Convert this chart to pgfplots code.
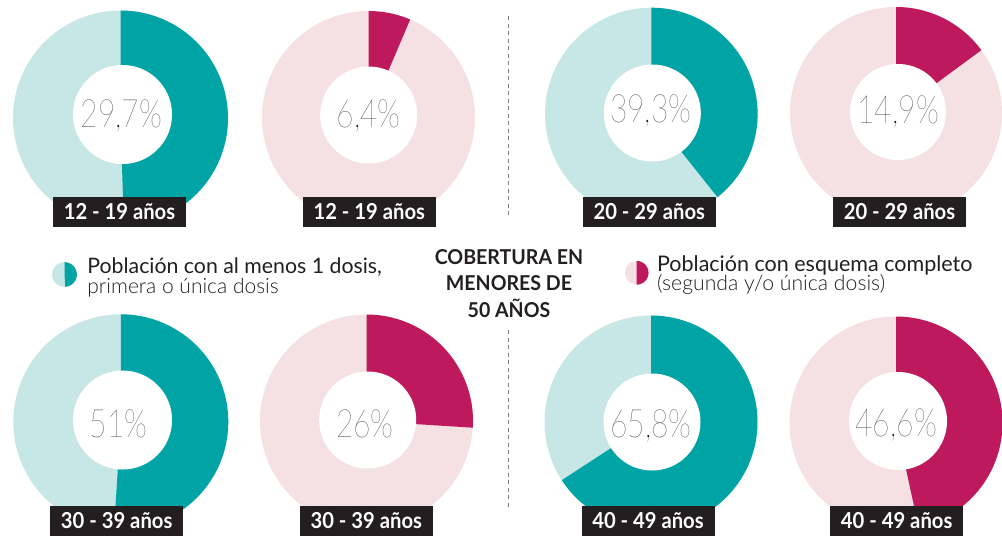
\documentclass[border=0pt]{standalone}
\usepackage{pgfplots}
\pgfplotsset{compat=1.18}
\usepackage{fontspec}
\usepackage{graphicx}
\setmainfont{Lato}
\IfFontExistsTF{Lato Light}{\newfontfamily\lightfont{Lato Light}}{\newfontfamily\lightfont{Lato}}
\IfFontExistsTF{Lato Thin}{\newfontfamily\thinfont{Lato Thin}}{\newfontfamily\thinfont{Lato}}
\definecolor{tealD}{RGB}{0,164,165}
\definecolor{tealL}{RGB}{199,230,230}
\definecolor{magD}{RGB}{190,25,92}
\definecolor{magL}{RGB}{245,224,228}
\definecolor{ink}{RGB}{35,31,32}
\definecolor{pct}{RGB}{25,25,25}
% cx cy R hx hy r value dark light
\newcommand{\donut}[9]{%
  \addplot[fill=#9, draw=none, domain=0:360, samples=181, variable=\t] ({#1+#3*sin(\t)},{#2-#3*cos(\t)});
  \addplot[fill=#8, draw=none, domain=0:3.6*#7, samples=120, variable=\t] ({#1+#3*sin(\t)},{#2-#3*cos(\t)}) -- (axis cs:#1,#2) -- cycle;
  \ifx&#6&\else
  \addplot[fill=white, draw=none, domain=0:360, samples=181, variable=\t] ({#4+#6*sin(\t)},{#5-#6*cos(\t)});
  \fi
}
\newcommand{\pcttext}[3]{\node[anchor=base, inner sep=0pt, text=pct] at (axis cs:#1,#2) {\scalebox{0.77}[1]{\thinfont\fontsize{19.5pt}{20pt}\selectfont #3}};}
\newcommand{\agebox}[3]{\node[fill=ink, text=white, minimum width=66.5pt, minimum height=15pt, inner sep=0pt] at (axis cs:#1,#2) {\scalebox{0.92}[1]{\bfseries\fontsize{11pt}{12pt}\selectfont #3}};}
\newcommand{\titleline}[2]{\node[anchor=base, inner sep=0pt, text=ink] at (axis cs:509,#1) {\scalebox{0.955}[1]{\bfseries\fontsize{10.25pt}{12pt}\selectfont #2}};}
\begin{document}
\begin{tikzpicture}
\begin{axis}[at={(0,0)}, anchor=south west, scale only axis, width=501pt, height=268pt,
  xmin=0, xmax=1002, ymin=0, ymax=536, y dir=reverse, axis lines=none, ticks=none, clip=true]
% top row
\donut{120.5}{118}{107.5}{122.5}{114.5}{49.5}{49.5}{tealD}{tealL}
\donut{368.5}{117.5}{106.5}{368.7}{115}{48.5}{6.4}{magD}{magL}
\donut{651.3}{114}{106.3}{652.3}{113}{48.5}{39.3}{tealD}{tealL}
\donut{896}{113}{106}{898}{112}{48}{14.9}{magD}{magL}
% bottom row
\donut{120.8}{421.8}{107.5}{122.5}{420}{49.5}{51}{tealD}{tealL}
\donut{366.5}{421}{106.5}{367.7}{420}{48.5}{26}{magD}{magL}
\donut{651}{422}{106.5}{652}{422}{48.5}{65.8}{tealD}{tealL}
\donut{896}{423}{106.5}{898}{421}{49}{46.6}{magD}{magL}
% legend icons
\donut{64.5}{274.5}{12.3}{0}{0}{}{49}{tealD}{tealL}
\donut{636.7}{272.8}{11.8}{0}{0}{}{50}{magD}{magL}
% percentages
\pcttext{121.5}{127}{29,7\%}
\pcttext{368.8}{127.3}{6,4\%}
\pcttext{650.8}{122.7}{39,3\%}
\pcttext{898.3}{123.3}{14,9\%}
\pcttext{118.8}{437.3}{51\%}
\pcttext{365}{437.3}{26\%}
\pcttext{651}{437}{65,8\%}
\pcttext{896.3}{436.7}{46,6\%}
% age boxes
\agebox{119.5}{212}{12 - 19 años}
\agebox{369.3}{212}{12 - 19 años}
\agebox{649.3}{212}{20 - 29 años}
\agebox{899.5}{212}{20 - 29 años}
\agebox{116.7}{520.5}{30 - 39 años}
\agebox{366.3}{520.5}{30 - 39 años}
\agebox{648}{520.5}{40 - 49 años}
\agebox{896.7}{520.5}{40 - 49 años}
% title
\titleline{264}{COBERTURA EN}
\titleline{290.7}{MENORES DE}
\titleline{317.3}{50 AÑOS}
% legends
\node[anchor=base west, inner sep=0pt, text depth=0pt, text=ink] at (axis cs:87,273.3) {\fontsize{10.65pt}{13pt}\selectfont Población con al menos 1 dosis,};
\node[anchor=base west, inner sep=0pt, text height=5pt, text=ink] at (axis cs:87,293) {\lightfont\fontsize{10.5pt}{13pt}\selectfont primera o única dosis};
\node[anchor=base west, inner sep=0pt, text depth=0pt, text=ink] at (axis cs:656.7,271.7) {\fontsize{10.75pt}{13pt}\selectfont Población con esquema completo};
\node[anchor=base west, inner sep=0pt, text height=5pt, text=ink] at (axis cs:656.7,290.7) {\lightfont\fontsize{10.6pt}{13pt}\selectfont (segunda y/o única dosis)};
% dashed separators
\draw[color=gray, line width=0.6pt, dash pattern=on 2pt off 1.75pt] (axis cs:508.3,16) -- (axis cs:508.3,218);
\draw[color=gray, line width=0.6pt, dash pattern=on 2pt off 1.75pt] (axis cs:508.3,330) -- (axis cs:508.3,510);
\end{axis}
\pgfresetboundingbox
\path (current axis.south west) rectangle (current axis.north east);
\end{tikzpicture}
\end{document}
